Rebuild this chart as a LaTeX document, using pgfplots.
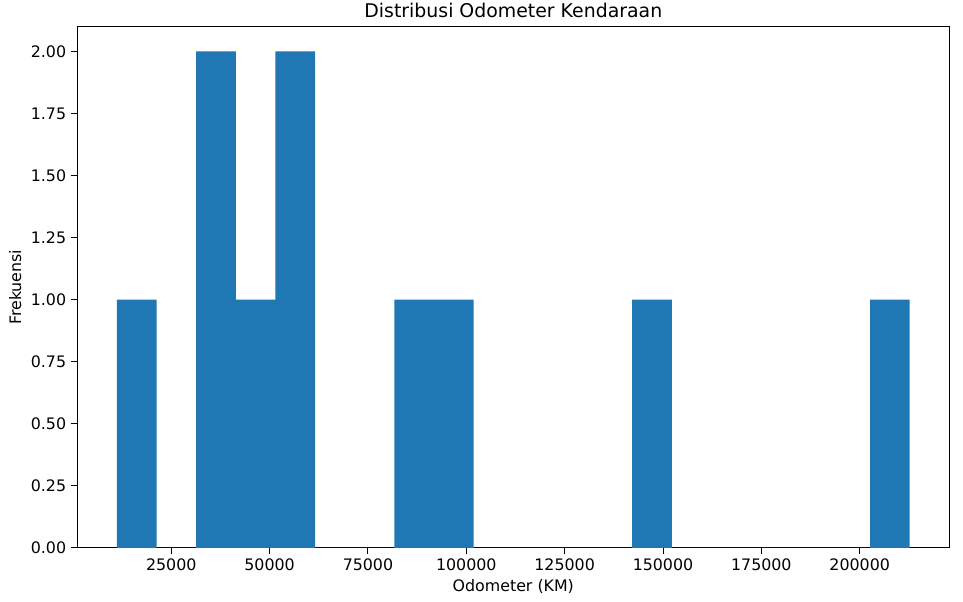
\documentclass[border=0pt]{standalone}
\usepackage{fontspec}
\setmainfont{DejaVu Sans}
\usepackage{pgfplots}
\pgfplotsset{compat=1.18}
\definecolor{mplblue}{HTML}{1F77B4}

\begin{document}
\begin{tikzpicture}
\begin{axis}[
  scale only axis,
  width=627.84pt,
  height=375.3pt,
  xmin=1125, xmax=222775,
  ymin=0, ymax=2.1,
  axis line style={line width=0.7pt},
  tick align=outside,
  tick style={line width=0.7pt, black},
  major tick length=4.5pt,
  xtick={25000,50000,75000,100000,125000,150000,175000,200000},
  xticklabels={25000,50000,75000,100000,125000,150000,175000,200000},
  ytick={0,0.25,0.5,0.75,1,1.25,1.5,1.75,2},
  yticklabels={0.00,0.25,0.50,0.75,1.00,1.25,1.50,1.75,2.00},
  xtick pos=bottom,
  ytick pos=left,
  font=\fontsize{11.4}{13}\selectfont,
  scaled x ticks=false,
  title={Distribusi Odometer Kendaraan},
  title style={font=\fontsize{13.6}{15}\selectfont, at={(axis description cs:0.5,1)}, anchor=center, yshift=5.6pt},
  xlabel={Odometer (KM)},
  xlabel style={at={(axis description cs:0.5,0)}, anchor=center, yshift=-27.8pt},
  ylabel={Frekuensi},
  ylabel style={at={(axis description cs:0,0.5)}, anchor=center, yshift=44.7pt},
]
\addplot[ybar interval, fill=mplblue, draw=none] coordinates {
  (11200,1) (21275,0) (31350,2) (41425,1) (51500,2)
  (61575,0) (71650,0) (81725,1) (91800,1) (101875,0)
  (111950,0) (122025,0) (132100,0) (142175,1) (152250,0)
  (162325,0) (172400,0) (182475,0) (192550,0) (202625,1)
  (212700,0)
};
\end{axis}
\pgfresetboundingbox
\path[use as bounding box] ([shift={(-55.66pt,-38.88pt)}]current axis.south west) rectangle ([shift={(9.86pt,19.2pt)}]current axis.north east);
\end{tikzpicture}
\end{document}
